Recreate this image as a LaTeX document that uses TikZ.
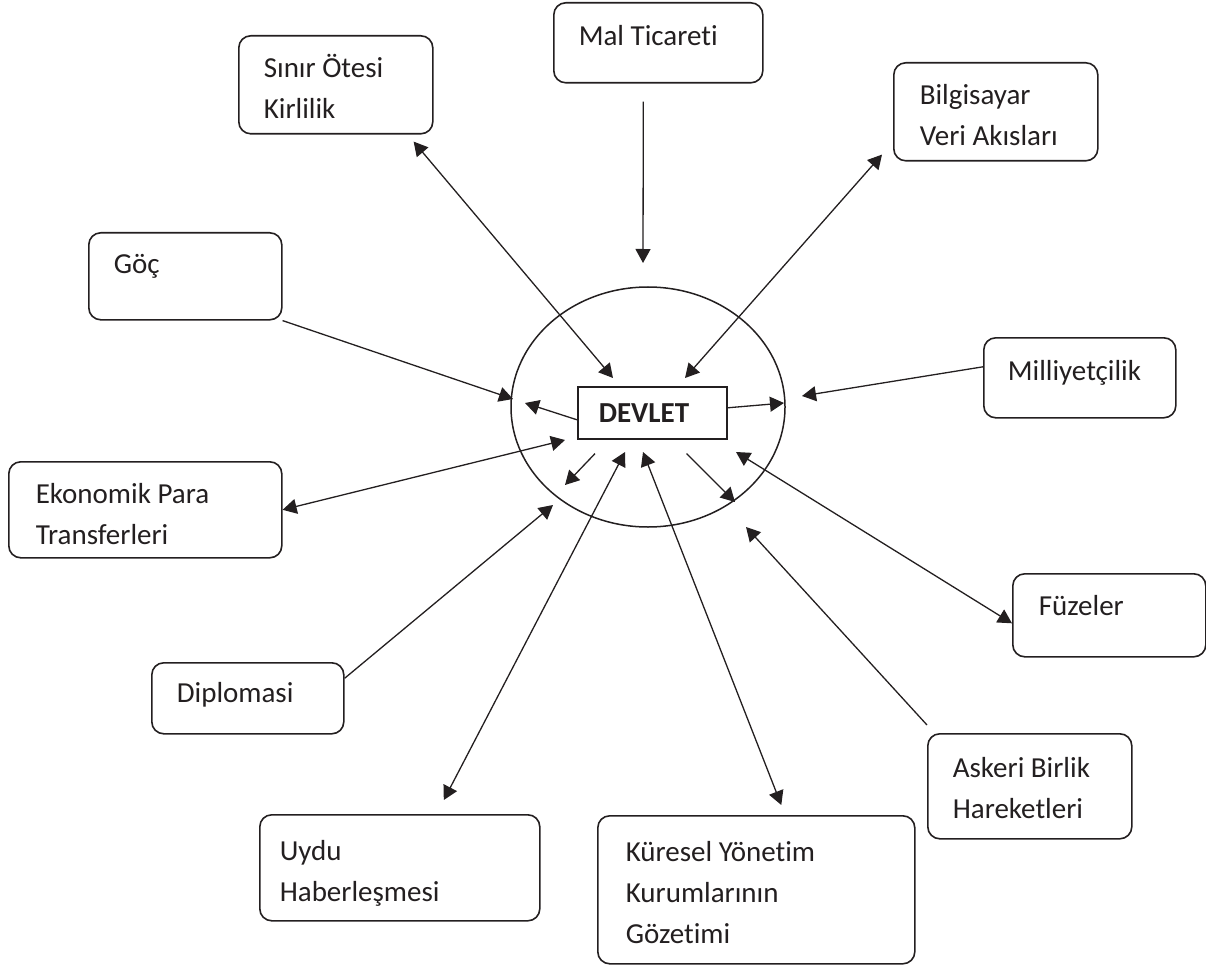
\documentclass[tikz,border=0pt]{standalone}
\usepackage{fontspec}
\setmainfont{Carlito}[Ligatures=CommonOff]
\usepackage{xcolor}
\usetikzlibrary{arrows.meta}
\definecolor{ink}{HTML}{231F20}

\begin{document}
\begin{tikzpicture}[x=1pt,y=-1pt,
  every node/.style={font=\fontsize{29}{41}\selectfont,text=ink},
  box/.style={draw=ink,rounded corners=12pt,line width=1.6pt,anchor=north west,align=flush left,inner ysep=0pt},
  arr/.style={draw=ink,line width=1.3pt,-{Triangle[length=14pt,width=15pt]}},
  dbl/.style={draw=ink,line width=1.3pt,{Triangle[length=14pt,width=15pt]}-{Triangle[length=14pt,width=15pt]}}]
\useasboundingbox (0,0) rectangle (1206,965);
%
\draw[ink,line width=1.5pt] (648,407) ellipse [x radius=137,y radius=120];
\node[box,rounded corners=0pt,inner xsep=21pt,text width=107pt,text height=36pt,text depth=16pt,font=\fontsize{29}{41}\selectfont\bfseries] (dev) at (577,386) {DEVLET};
%
\node[box,inner xsep=25pt,text width=144pt,text height=42pt,text depth=56pt] (kir) at (238,35) {Sınır Ötesi\\Kirlilik};
\node[box,inner xsep=25pt,text width=159pt,text height=43pt,text depth=37pt] (mal) at (553,2) {Mal Ticareti};
\node[box,inner xsep=26pt,text width=152pt,text height=42pt,text depth=56pt] (bil) at (893,62) {Bilgisayar\\Veri Akısları};
\node[box,inner xsep=25pt,text width=143pt,text height=41pt,text depth=46pt] (goc) at (88,232) {Göç};
\node[box,inner xsep=24pt,text width=144pt,text height=43pt,text depth=37pt] (mil) at (983,337) {Milliyetçilik};
\node[box,inner xsep=27pt,text width=219pt,text height=42pt,text depth=54pt] (eko) at (8,461) {Ekonomik Para\\Transferleri};
\node[box,inner xsep=25pt,text width=142pt,text height=40pt,text depth=31pt] (dip) at (151,662) {Diplomasi};
\node[box,inner xsep=26pt,text width=141pt,text height=42pt,text depth=41pt] (fuz) at (1012,573) {Füzeler};
\node[box,inner xsep=25pt,text width=154pt,text height=44pt,text depth=61pt] (ask) at (927,733) {Askeri Birlik\\Hareketleri};
\node[box,inner xsep=20pt,text width=240pt,text height=46pt,text depth=60pt] (uydu) at (259,814) {Uydu\\Haberleşmesi};
\node[box,inner xsep=28pt,text width=261pt,text height=46pt,text depth=102pt] (kur) at (597,815) {Küresel Yönetim\\Kurumlarının\\Gözetimi};
%
\coordinate (kirIn) at (613,378);
\coordinate (malIn) at (643,263);
\coordinate (bilIn) at (685,378);
\coordinate (gocIn) at (513,399);
\coordinate (devW) at (525,403);
\coordinate (devE) at (784,403);
\coordinate (milIn) at (802,396);
\coordinate (ekoIn) at (565,440);
\coordinate (devSW) at (565,485);
\coordinate (dipIn) at (553,505);
\coordinate (uyduIn) at (625,452);
\coordinate (kurIn) at (643,452);
\coordinate (devSE) at (735,502);
\coordinate (fuzIn) at (736,452);
\coordinate (askIn) at (746,527);
%
\draw[dbl] ([shift={(-20,7)}]kir.south east) -- (kirIn);
\draw[arr] ([shift={(-15,18)}]mal.south) -- (malIn);
\draw[dbl] ([shift={(-11,-7)}]bil.south west) -- (bilIn);
\draw[arr] (goc.south east) -- (gocIn);
\draw[arr] ([shift={(0,7)}]dev.west) -- (devW);
\draw[arr] ([shift={(0,-5)}]dev.east) -- (devE);
\draw[arr] ([shift={(0,-11)}]mil.west) -- (milIn);
\draw[dbl] (eko.east) -- (ekoIn);
\draw[arr] ([shift={(18,14)}]dev.south west) -- (devSW);
\draw[arr] ([shift={(0,-20)}]dip.east) -- (dipIn);
\draw[dbl] ([shift={(44,-14)}]uydu.north) -- (uyduIn);
\draw[dbl] ([shift={(25,-10)}]kur.north) -- (kurIn);
\draw[arr] ([shift={(-41,14)}]dev.south east) -- (devSE);
\draw[dbl] ([shift={(0,8)}]fuz.west) -- (fuzIn);
\draw[arr] ([shift={(0,-8)}]ask.north west) -- (askIn);
%
\end{tikzpicture}
\end{document}
